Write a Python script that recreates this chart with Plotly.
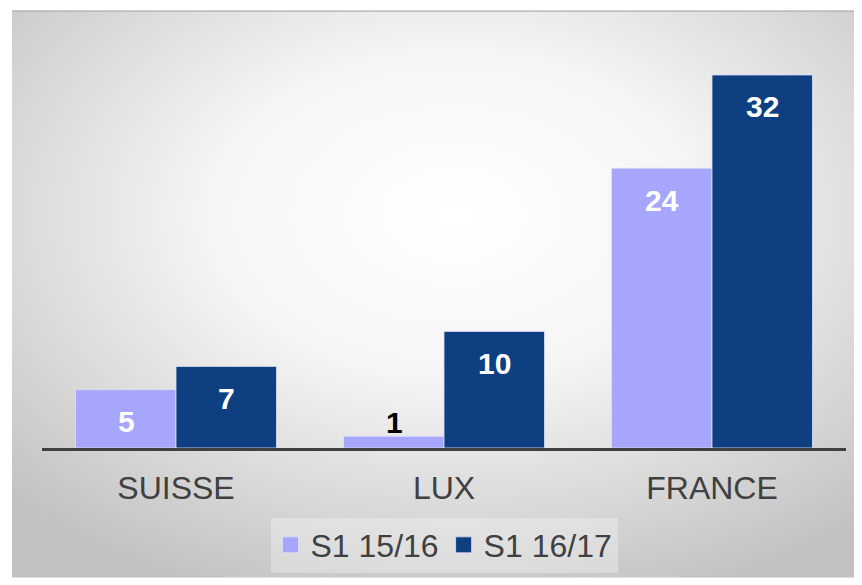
import plotly.graph_objects as go
import urllib.parse

categories = ["SUISSE", "LUX", "FRANCE"]
series_names = ["S1 15/16", "S1 16/17"]
values_1516 = [5, 1, 24]
values_1617 = [7, 10, 32]

colors = ["#A6A6FC", "#0E3F80"]
font_family = "Liberation Sans, Arial, sans-serif"

# page body has an 8px margin; work in figure coordinates
OFF = 8
W, H = 854, 577
L, R, T, B = 42 - OFF, 16, 40 - OFF, 133
pw, ph = W - L - R, H - T - B
base_y = H - B  # baseline pixel in figure coords

fig = go.Figure()
for name, vals, col in zip(series_names, [values_1516, values_1617], colors):
    fig.add_trace(go.Bar(
        x=categories, y=vals, name=name, showlegend=False,
        marker=dict(color=col, line=dict(color="rgba(220,225,245,0.8)", width=1)),
        hoverinfo="x+y",
    ))
# legend entries with larger square swatches
for name, col in zip(series_names, colors):
    fig.add_trace(go.Scatter(
        x=[None], y=[None], mode="markers", name=name,
        marker=dict(symbol="square", size=16, color=col,
                    line=dict(color="rgba(220,225,245,0.8)", width=1)),
    ))

# value labels
for si, vals in enumerate([values_1516, values_1617]):
    shift = -50 if si == 0 else 50
    for c, v in zip(categories, vals):
        inside = v >= 3
        fig.add_annotation(
            x=c, y=v, xref="x", yref="y", xshift=shift,
            yshift=-32 if inside else 14, yanchor="middle",
            text="<b>%d</b>" % v, showarrow=False,
            font=dict(family=font_family, size=30, color="white" if inside else "black"),
        )

# radial gradient background panel
svg = (
    '<svg xmlns="http://www.w3.org/2000/svg" width="850" height="573" viewBox="0 0 850 573" preserveAspectRatio="none">'
    '<defs><radialGradient id="g" cx="0.52" cy="0.36" r="0.72">'
    '<stop offset="0" stop-color="#ffffff"/>'
    '<stop offset="0.4" stop-color="#f5f5f5"/>'
    '<stop offset="1" stop-color="#c2c2c2"/>'
    '</radialGradient></defs>'
    '<rect x="0" y="0" width="850" height="573" fill="url(#g)"/>'
    '<rect x="0" y="0" width="850" height="1.5" fill="#b4b4b4"/>'
    '</svg>'
)
src = "data:image/svg+xml;charset=utf-8," + urllib.parse.quote(svg)
px0, py0, px1, py1 = 12 - OFF, 10 - OFF, 862 - OFF, 583 - OFF
fig.add_layout_image(dict(
    source=src, xref="paper", yref="paper",
    x=(px0 - L) / pw, y=(base_y - py0) / ph,
    sizex=(px1 - px0) / pw, sizey=(py1 - py0) / ph,
    xanchor="left", yanchor="top", sizing="stretch", layer="below",
))

fig.update_layout(
    width=W, height=H,
    margin=dict(l=L, r=R, t=T, b=B),
    paper_bgcolor="white", plot_bgcolor="rgba(0,0,0,0)",
    barmode="group", bargap=0.25, bargroupgap=0,
    font=dict(family=font_family, color="#404040"),
    showlegend=True,
    legend=dict(
        orientation="h", x=0.5, xanchor="center",
        y=(base_y - (550 - OFF)) / ph, yanchor="middle",
        font=dict(size=32, color="#404040"),
        bgcolor="rgba(255,255,255,0.3)",
        itemsizing="trace",
    ),
    xaxis=dict(
        showline=True, linecolor="#404040", linewidth=3,
        ticks="", tickfont=dict(size=32, color="#404040"),
        ticklabelstandoff=10,
        showgrid=False, zeroline=False,
    ),
    yaxis=dict(
        range=[0, 35], visible=False, showgrid=False, zeroline=False,
    ),
)

fig.write_html("out.html")
